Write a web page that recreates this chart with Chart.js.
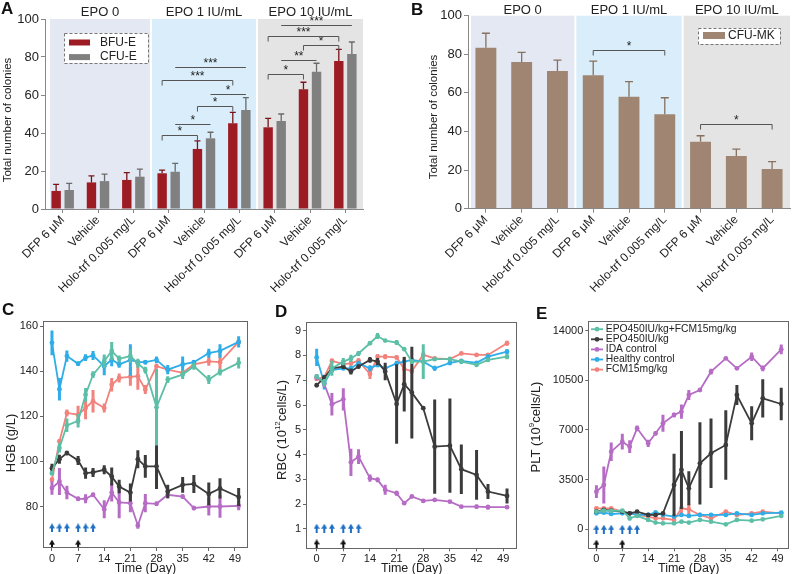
<!DOCTYPE html>
<html>
<head>
<meta charset="utf-8">
<script src="https://cdn.jsdelivr.net/npm/chart.js@4.4.1/dist/chart.umd.min.js"></script>
<style>
  body { margin: 0; background: #fff; }
  #fig { position: relative; width: 792px; height: 574px; overflow: hidden; font-family: "Liberation Sans", Arial, sans-serif; }
  #fig canvas { position: absolute; }
  .tag { position: absolute; font-weight: bold; font-size: 17px; line-height: 1; color: #111; }
</style>
</head>
<body>
<div id="fig">
  <canvas id="chart-a" width="392" height="292" style="left:0;top:0"></canvas>
  <canvas id="chart-b" width="401" height="292" style="left:391px;top:0"></canvas>
  <canvas id="chart-c" width="262" height="281" style="left:0;top:295px"></canvas>
  <canvas id="chart-d" width="262" height="281" style="left:262px;top:295px"></canvas>
  <canvas id="chart-e" width="272" height="281" style="left:522px;top:295px"></canvas>
  <div class="tag" style="left:1px;top:0">A</div>
  <div class="tag" style="left:411px;top:1px">B</div>
  <div class="tag" style="left:2px;top:301px">C</div>
  <div class="tag" style="left:275px;top:303px">D</div>
  <div class="tag" style="left:536px;top:305px">E</div>
</div>
<script>
// ---- data: colony assays (A, B) ----
const treatments = ['DFP 6 μM', 'Vehicle', 'Holo-trf 0.005 mg/L'];
const groupTitles = ['EPO 0', 'EPO 1 IU/mL', 'EPO 10 IU/mL'];
const colonyTicks = [0, 20, 40, 60, 80, 100];

const bfuE = [9.5, 14, 15.3, 18.8, 31.6, 45.1, 43, 63, 77.9];
const bfuEErr = [3.5, 3.4, 3.8, 1.7, 4.3, 5.8, 4.7, 3.7, 6.1];
const cfuE = [10, 14.7, 17, 19.6, 37.2, 52.1, 46.3, 72.3, 81.6];
const cfuEErr = [3.5, 3.7, 4, 4.4, 3.2, 6.5, 3.7, 4.4, 6.3];
const cfuMK = [83.4, 76, 71.3, 69.1, 58, 49, 34.7, 27.3, 20.6];
const cfuMKErr = [7.5, 5, 5.7, 7.4, 7.8, 8.5, 3.1, 3.6, 3.8];

// significance: [category, dataset, category, dataset, height, stars, with end ticks]
const sigA = [
  [3, 0, 4, 0, 39, '*', 1],
  [3, 1, 4, 1, 44.7, '*', 0],
  [4, 0, 5, 0, 54.2, '*', 1],
  [4, 1, 5, 1, 60.7, '*', 0],
  [3, 0, 5, 0, 67.9, '***', 1],
  [3, 1, 5, 1, 74.6, '***', 0],
  [6, 0, 7, 0, 71, '*', 1],
  [6, 1, 7, 1, 78.4, '**', 0],
  [7, 0, 8, 0, 86.5, '*', 1],
  [6, 0, 8, 0, 91.2, '***', 1],
  [6, 1, 8, 1, 96.8, '***', 0]
];
const sigB = [
  [3, 0, 5, 0, 82.2, '*', 1],
  [6, 0, 8, 0, 43.7, '*', 1]
];

// ---- data: time courses (C, D, E) ----
const days = [0, 2, 4, 7, 9, 11, 14, 16, 18, 21, 23, 25, 28, 31, 35, 38, 42, 45, 50];
const dayTicks = [0, 7, 14, 21, 28, 35, 42, 49];
const blueArrowDays = [0, 2, 4, 7, 9, 11];
const blackArrowDays = [0, 7];
const seriesNames = ['EPO450IU/kg+FCM15mg/kg', 'EPO450IU/kg', 'IDA control', 'Healthy control', 'FCM15mg/kg'];

const hgbTicks = [80, 100, 120, 140, 160];
const hgbComb = [94.8, 106, 116, 118, 129.6, 138.5, 144.4, 149, 145.5, 146.7, 143.5, 140.5, 124, 136.3, 138.5, 142.2, 136.3, 139.6, 143.7];
const hgbCombErr = [1, 2, 3, 3, 3, 1.5, 3, 4, 1.5, 3, 2, 1.5, 17, 1.5, 2, 1.5, 2, 1.5, 2.5];
const hgbEpo = [97, 101, 103.7, 100.4, 94.8, 95.1, 96.3, 93.3, 88.9, 86.2, 101, 97.8, 97.8, 86.7, 89.6, 90, 85.6, 88, 84.2];
const hgbEpoErr = [2, 2, 1, 2, 2.5, 2, 2, 4, 3, 4, 4, 5, 10, 3, 3.5, 4, 5, 4.5, 4];
const hgbIda = [88.2, 91.1, 86.2, 83.4, 83.4, 85.2, 78.8, 86.2, 81.8, 81.5, 71.6, 81.5, 81.2, 85.2, 84.4, 79.3, 80, 80, 80.3];
const hgbIdaErr = [3, 6, 3, 1, 2, 1, 4, 4, 7, 4, 1.5, 4, 1, 1.5, 1, 1, 4, 5, 2];
const hgbHealthy = [152.6, 132, 146.7, 143.3, 146, 147, 142.2, 145.2, 143, 145, 144, 144, 145, 140.7, 143, 144, 148, 149, 153];
const hgbHealthyErr = [5.5, 5, 2.5, 1, 1.5, 2, 4, 3, 1.5, 7, 1, 1, 1.5, 2, 3.5, 1, 2, 3, 2.5];
const hgbFcm = [91.9, 108.9, 121.5, 120.7, 123.7, 126.7, 123.7, 134, 137, 137.5, 137.8, 131.9, 142.2, 140.7, 139.3, 143, 144.4, 144, 153];
const hgbFcmErr = [1, 1, 1.5, 4, 5, 5, 2, 3, 2, 4, 6, 2, 1, 1, 1, 1, 2, 4, 1];

const rbcTicks = [1, 2, 3, 4, 5, 6, 7, 8, 9];
const rbcComb = [7.15, 6.9, 7.48, 7.75, 7.88, 8.08, 8.49, 8.78, 8.6, 8.52, 8.25, 7.75, 7.75, 7.85, 7.85, 7.75, 7.62, 7.82, 7.95];
const rbcCombErr = [0.1, 0.15, 0.3, 0.15, 0.15, 0.1, 0.05, 0.12, 0.05, 0.1, 0.05, 0.1, 0.7, 0.05, 0.1, 0.1, 0.08, 0.08, 0.1];
const rbcEpo = [6.8, 7.1, 7.48, 7.55, 7.35, 7.55, 7.82, 7.75, 7.35, 6.04, 6.84, 6.5, 5.87, 4.32, 4.36, 3.41, 3.18, 2.51, 2.33];
const rbcEpoErr = [0.08, 0.1, 0.08, 0.1, 0.12, 0.08, 0.12, 0.15, 0.35, 1.6, 1.1, 1.85, 0.05, 1.9, 1.9, 1.0, 1.0, 0.3, 0.3];
const rbcIda = [7.12, 6.85, 6.03, 6.23, 3.69, 3.92, 3.05, 2.98, 2.58, 2.44, 2.04, 2.31, 2.13, 2.17, 2.1, 1.9, 1.9, 1.88, 1.88];
const rbcIdaErr = [0.1, 0.15, 0.45, 0.45, 0.55, 0.3, 0.15, 0.1, 0.2, 0.1, 0.05, 0.05, 0.05, 0.05, 0.05, 0.05, 0.08, 0.1, 0.05];
const rbcHealthy = [7.92, 6.88, 7.41, 7.48, 7.48, 7.68, 7.48, 7.62, 7.48, 7.68, 7.75, 7.82, 7.75, 7.48, 7.7, 7.78, 7.7, 7.95, 8.15];
const rbcHealthyErr = [0.35, 0.25, 0.1, 0.08, 0.1, 0.1, 0.12, 0.1, 0.1, 0.1, 0.05, 0.05, 0.05, 0.1, 0.1, 0.08, 0.05, 0.08, 0.1];
const rbcFcm = [7.05, 7.12, 7.78, 7.65, 7.68, 7.79, 7.25, 7.95, 7.95, 7.92, 7.45, 7.37, 8.02, 7.88, 7.85, 8.08, 8.02, 8.02, 8.49];
const rbcFcmErr = [0.08, 0.1, 0.1, 0.1, 0.1, 0.1, 0.2, 0.1, 0.1, 0.08, 0.5, 0.1, 0.1, 0.05, 0.05, 0.05, 0.05, 0.05, 0.1];

const pltTicks = [0, 3500, 7000, 10500, 14000];
const pltComb = [1245, 1315, 1292, 1315, 775, 940, 658, 470, 423, 423, 540, 470, 658, 540, 352, 658, 610, 705, 940];
const pltCombErr = [100, 100, 100, 80, 150, 100, 100, 80, 80, 80, 80, 80, 80, 80, 100, 80, 100, 80, 80];
const pltEpo = [1245, 1362, 1315, 1245, 1127, 1245, 1010, 1010, 1127, 3124, 4181, 2889, 4651, 5356, 5943, 9466, 7470, 9231, 8832];
const pltEpoErr = [150, 100, 100, 100, 100, 80, 80, 80, 100, 2200, 2750, 1200, 2900, 2450, 2450, 700, 1200, 1350, 1150];
const pltIda = [2654, 3124, 5473, 6178, 5825, 7117, 6060, 6765, 7470, 8057, 8292, 9466, 9819, 11111, 12050, 11346, 12168, 11346, 12685];
const pltIdaErr = [450, 1300, 650, 550, 450, 200, 250, 150, 600, 150, 500, 350, 100, 200, 100, 100, 300, 200, 350];
const pltHealthy = [1127, 1174, 1080, 1127, 1127, 1010, 1010, 1198, 1010, 893, 1010, 940, 1010, 1010, 1010, 1127, 1010, 1127, 1174];
const pltHealthyErr = [100, 80, 80, 80, 80, 80, 80, 80, 80, 80, 80, 80, 80, 80, 80, 80, 80, 80, 80];
const pltFcm = [1480, 1480, 1480, 1245, 1127, 1010, 893, 775, 775, 658, 1480, 1409, 1010, 775, 1245, 1010, 1127, 1245, 1127];
const pltFcmErr = [100, 100, 100, 100, 100, 100, 100, 100, 100, 100, 500, 400, 100, 100, 100, 100, 100, 100, 100];

// ---- styles ----
const FONT = '"Liberation Sans", Arial, Helvetica, sans-serif';
const TEXT = '#222';
const AXIS = '#888';
const FRAME = '#666';
const groupColors = ['#e3e8f3', '#d9eefa', '#e4e4e4'];
const seriesColors = ['#5cbfa6', '#3b3b3b', '#b66cc5', '#2eade8', '#f2827c'];

Chart.defaults.font.family = FONT;
Chart.defaults.color = TEXT;

// shaded EPO groups with their titles
function groupBg(inset, titleGap) {
  return {
    id: 'groupBg',
    beforeDraw(chart) {
      const { ctx, chartArea: a, scales: { x } } = chart;
      const half = (x.getPixelForValue(1) - x.getPixelForValue(0)) / 2;
      ctx.save();
      groupTitles.forEach((t, g) => {
        const l = g === 0 ? a.left + inset : x.getPixelForValue(3 * g) - half + 1;
        const r = g === 2 ? a.right : x.getPixelForValue(3 * g + 2) + half - 1;
        ctx.fillStyle = groupColors[g];
        ctx.fillRect(l, a.top, r - l, a.bottom - a.top);
        ctx.fillStyle = TEXT;
        ctx.font = '13px ' + FONT;
        ctx.textAlign = 'center';
        ctx.textBaseline = 'middle';
        ctx.fillText(t, (l + r) / 2, a.top - titleGap);
      });
      ctx.restore();
    }
  };
}

// upper error bars with a cap
const barErr = {
  id: 'barErr',
  afterDatasetsDraw(chart) {
    const { ctx } = chart, y = chart.scales.y;
    chart.data.datasets.forEach((ds, di) => {
      ctx.save();
      ctx.strokeStyle = ds.errColor;
      ctx.lineWidth = 1.3;
      chart.getDatasetMeta(di).data.forEach((bar, i) => {
        const top = y.getPixelForValue(ds.data[i] + ds.err[i]);
        const c = ds.capWidth / 2;
        ctx.beginPath();
        ctx.moveTo(bar.x, bar.y);
        ctx.lineTo(bar.x, top);
        ctx.moveTo(bar.x - c, top);
        ctx.lineTo(bar.x + c, top);
        ctx.stroke();
      });
      ctx.restore();
    });
  }
};

function brackets(list) {
  return {
    id: 'brackets',
    afterDatasetsDraw(chart) {
      const { ctx } = chart, y = chart.scales.y;
      ctx.save();
      ctx.strokeStyle = '#555';
      ctx.fillStyle = TEXT;
      ctx.lineWidth = 1;
      ctx.font = '12px ' + FONT;
      ctx.textAlign = 'center';
      ctx.textBaseline = 'alphabetic';
      list.forEach(([c1, s1, c2, s2, v, label, ticked]) => {
        const x1 = chart.getDatasetMeta(s1).data[c1].x;
        const x2 = chart.getDatasetMeta(s2).data[c2].x;
        const py = Math.round(y.getPixelForValue(v)) + 0.5;
        ctx.beginPath();
        if (ticked) {
          ctx.moveTo(x1, py + 5); ctx.lineTo(x1, py); ctx.lineTo(x2, py); ctx.lineTo(x2, py + 5);
        } else {
          ctx.moveTo(x1, py); ctx.lineTo(x2, py);
        }
        ctx.stroke();
        ctx.fillText(label, (x1 + x2) / 2, py - 0.5);
      });
      ctx.restore();
    }
  };
}

function boxLegend(o) {
  return {
    id: 'boxLegend',
    afterDraw(chart) {
      const { ctx } = chart;
      ctx.save();
      ctx.fillStyle = '#fff';
      ctx.fillRect(o.x, o.y, o.w, o.h);
      ctx.setLineDash([3, 2]);
      ctx.strokeStyle = '#777';
      ctx.lineWidth = 1;
      ctx.strokeRect(o.x + 0.5, o.y + 0.5, o.w, o.h);
      ctx.setLineDash([]);
      ctx.font = '12px ' + FONT;
      ctx.textAlign = 'left';
      ctx.textBaseline = 'middle';
      chart.data.datasets.forEach((ds, i) => {
        const ry = o.y + o.first + i * o.step;
        ctx.fillStyle = ds.backgroundColor;
        ctx.fillRect(o.x + 5, ry - o.sh / 2, o.sw, o.sh);
        ctx.fillStyle = TEXT;
        ctx.fillText(ds.label, o.x + o.tx, ry);
      });
      ctx.restore();
    }
  };
}

// rotated axis title, parts may be superscript
function yTitle(parts, x, y, size) {
  return {
    id: 'yTitle',
    afterDraw(chart) {
      const { ctx } = chart;
      const big = size + 'px ' + FONT, small = Math.round(size * 0.65) + 'px ' + FONT;
      ctx.save();
      ctx.translate(x, y);
      ctx.rotate(-Math.PI / 2);
      ctx.fillStyle = TEXT;
      ctx.textAlign = 'left';
      ctx.textBaseline = 'middle';
      let total = 0;
      parts.forEach(([t, sup]) => { ctx.font = sup ? small : big; total += ctx.measureText(t).width; });
      let cx = -total / 2;
      parts.forEach(([t, sup]) => {
        ctx.font = sup ? small : big;
        ctx.fillText(t, cx, sup ? -size * 0.35 : 0);
        cx += ctx.measureText(t).width;
      });
      ctx.restore();
    }
  };
}

const frame = {
  id: 'frame',
  afterDraw(chart) {
    const { ctx, chartArea: a } = chart;
    ctx.save();
    ctx.strokeStyle = FRAME;
    ctx.lineWidth = 1;
    ctx.strokeRect(Math.round(a.left) + 0.5, Math.round(a.top) + 0.5, Math.round(a.right - a.left) - 1, Math.round(a.bottom - a.top) - 1);
    ctx.restore();
  }
};

// symmetric error bars drawn under each series
const lineErr = {
  id: 'lineErr',
  beforeDatasetDraw(chart, args) {
    const ds = chart.data.datasets[args.index];
    if (!ds.err) return;
    const { ctx, chartArea: a } = chart, y = chart.scales.y;
    ctx.save();
    ctx.beginPath();
    ctx.rect(a.left, a.top, a.right - a.left, a.bottom - a.top);
    ctx.clip();
    ctx.strokeStyle = ds.borderColor;
    ctx.lineWidth = 3;
    args.meta.data.forEach((pt, i) => {
      const v = ds.data[i].y, e = ds.err[i];
      ctx.beginPath();
      ctx.moveTo(pt.x, y.getPixelForValue(v + e));
      ctx.lineTo(pt.x, y.getPixelForValue(v - e));
      ctx.stroke();
    });
    ctx.restore();
  }
};

const seriesLegend = {
  id: 'seriesLegend',
  afterDraw(chart) {
    const { ctx, chartArea: a } = chart;
    ctx.save();
    ctx.font = '10.3px ' + FONT;
    ctx.textAlign = 'left';
    ctx.textBaseline = 'middle';
    chart.data.datasets.filter(d => d.inLegend).forEach((ds, i) => {
      const y = a.top + 8.5 + i * 10.1, x = a.left + 2.7;
      ctx.strokeStyle = ds.borderColor;
      ctx.lineWidth = 1.8;
      ctx.beginPath(); ctx.moveTo(x, y); ctx.lineTo(x + 12, y); ctx.stroke();
      ctx.fillStyle = ds.borderColor;
      ctx.beginPath(); ctx.arc(x + 6, y, 2.4, 0, Math.PI * 2); ctx.fill();
      ctx.fillStyle = TEXT;
      ctx.fillText(ds.label, x + 14.8, y);
    });
    ctx.restore();
  }
};

function arrowIcon(color) {
  const c = document.createElement('canvas');
  c.width = 6; c.height = 9;
  const g = c.getContext('2d');
  g.fillStyle = color;
  g.beginPath(); g.moveTo(3, 0); g.lineTo(6, 5); g.lineTo(0, 5); g.closePath(); g.fill();
  g.fillRect(2, 4, 2, 5);
  return c;
}

function barChart(id, datasets, o) {
  return new Chart(document.getElementById(id), {
    type: 'bar',
    data: { labels: [...treatments, ...treatments, ...treatments], datasets },
    options: {
      responsive: false, animation: false, devicePixelRatio: 1, events: [],
      layout: { padding: { top: o.top, right: o.right, left: 0, bottom: 0 } },
      plugins: { legend: { display: false }, tooltip: { enabled: false } },
      scales: {
        x: {
          grid: { drawOnChartArea: false, offset: false, tickLength: 4, color: AXIS },
          border: { color: AXIS },
          ticks: { autoSkip: false, maxRotation: 45, minRotation: 45, padding: 0, color: TEXT, font: { size: 12 } },
          afterFit: s => { s.height = o.xHeight; }
        },
        y: {
          min: 0, max: 100,
          afterBuildTicks: s => { s.ticks = colonyTicks.map(v => ({ value: v })); },
          ticks: { padding: 2, color: TEXT, font: { size: 13 } },
          grid: { drawOnChartArea: false, tickLength: 4, color: AXIS },
          border: { color: AXIS },
          afterFit: s => { s.width = o.yWidth; }
        }
      }
    },
    plugins: [groupBg(o.inset, o.titleGap), barErr, brackets(o.sig), boxLegend(o.legend),
      yTitle([['Total number of colonies']], o.titleX, o.titleY, 11.5)]
  });
}

function lineChart(id, series, errors, o) {
  const datasets = series.map((vals, i) => ({
    label: seriesNames[i], inLegend: true,
    data: days.map((d, j) => ({ x: d, y: vals[j] })),
    err: errors[i],
    borderColor: seriesColors[i], backgroundColor: seriesColors[i], pointBackgroundColor: seriesColors[i]
  }));
  datasets.push({ data: blueArrowDays.map(d => ({ x: d, y: o.arrowY[0] })), showLine: false, pointStyle: arrowIcon('#1f6fc4'), pointRadius: 5 });
  datasets.push({ data: blackArrowDays.map(d => ({ x: d, y: o.arrowY[1] })), showLine: false, pointStyle: arrowIcon('#111'), pointRadius: 5 });
  const plugins = [lineErr, frame, yTitle(o.title, o.titleX, o.titleY, 13)];
  if (o.legend) plugins.push(seriesLegend);
  return new Chart(document.getElementById(id), {
    type: 'line',
    data: { datasets },
    options: {
      responsive: false, animation: false, devicePixelRatio: 1, events: [],
      layout: { padding: { top: o.top, right: o.right, left: 0, bottom: 0 } },
      plugins: { legend: { display: false }, tooltip: { enabled: false } },
      elements: { line: { borderWidth: 1.8, tension: 0 }, point: { radius: 2.4, borderWidth: 0 } },
      scales: {
        x: {
          type: 'linear', min: o.xMin, max: o.xMax,
          afterBuildTicks: s => { s.ticks = dayTicks.map(v => ({ value: v })); },
          ticks: { color: TEXT, font: { size: 11 }, padding: 1, maxRotation: 0, callback: v => String(v) },
          grid: { drawOnChartArea: false, tickLength: 3, color: FRAME },
          border: { display: false },
          title: { display: true, text: 'Time (Day)', color: TEXT, font: { size: 12.5 }, padding: 0 },
          afterFit: s => { s.height = o.xHeight; }
        },
        y: {
          min: o.yMin, max: o.yMax,
          afterBuildTicks: s => { s.ticks = o.yTicks.map(v => ({ value: v })); },
          ticks: { color: TEXT, font: { size: 11 }, padding: 2, callback: v => String(v) },
          grid: { drawOnChartArea: false, tickLength: 3, color: FRAME },
          border: { display: false },
          afterFit: s => { s.width = o.yWidth; }
        }
      }
    },
    plugins
  });
}

barChart('chart-a', [
  { label: 'BFU-E', data: bfuE, err: bfuEErr, backgroundColor: '#9d1c23', errColor: '#7a141a', capWidth: 6, barPercentage: 0.72, categoryPercentage: 0.74 },
  { label: 'CFU-E', data: cfuE, err: cfuEErr, backgroundColor: '#808080', errColor: '#6a6a6a', capWidth: 6, barPercentage: 0.72, categoryPercentage: 0.74 }
], {
  top: 19, right: 29, xHeight: 83, yWidth: 45, inset: 5, titleGap: 7, sig: sigA,
  legend: { x: 64, y: 33, w: 84, h: 30, first: 9.5, step: 14.6, sw: 21, sh: 6, tx: 36 },
  titleX: 7.5, titleY: 120
});

barChart('chart-b', [
  { label: 'CFU-MK', data: cfuMK, err: cfuMKErr, backgroundColor: '#a08672', errColor: '#86705f', capWidth: 8, barPercentage: 0.73, categoryPercentage: 0.8 }
], {
  top: 15.7, right: 2, xHeight: 83.3, yWidth: 77, inset: 3, titleGap: 5, sig: sigB,
  legend: { x: 307, y: 28, w: 82, h: 16, first: 7.5, step: 14, sw: 22, sh: 7, tx: 30 },
  titleX: 43, titleY: 117
});

lineChart('chart-c',
  [hgbComb, hgbEpo, hgbIda, hgbHealthy, hgbFcm],
  [hgbCombErr, hgbEpoErr, hgbIdaErr, hgbHealthyErr, hgbFcmErr],
  { top: 25.7, right: 14, xHeight: 28, yWidth: 43, xMin: -2.4, xMax: 52.5, yMin: 61.6, yMax: 162.4,
    yTicks: hgbTicks, arrowY: [70.5, 63.3], title: [['HGB (g/L)']], titleX: 11, titleY: 148 });

lineChart('chart-d',
  [rbcComb, rbcEpo, rbcIda, rbcHealthy, rbcFcm],
  [rbcCombErr, rbcEpoErr, rbcIdaErr, rbcHealthyErr, rbcFcmErr],
  { top: 26.7, right: 6.7, xHeight: 27.7, yWidth: 44, xMin: -2.8, xMax: 52.7, yMin: 0.22, yMax: 9.36,
    yTicks: rbcTicks, arrowY: [1.03, 0.4], title: [['RBC (10'], ['12', 1], ['cells/L)']], titleX: 20, titleY: 135 });

lineChart('chart-e',
  [pltComb, pltEpo, pltIda, pltHealthy, pltFcm],
  [pltCombErr, pltEpoErr, pltIdaErr, pltHealthyErr, pltFcmErr],
  { top: 25.7, right: 2.3, xHeight: 27.7, yWidth: 66.3, xMin: -2.2, xMax: 52.1, yMin: -1340, yMax: 14705,
    yTicks: pltTicks, arrowY: [0, -1050], title: [['PLT (10'], ['9', 1], ['cells/L)']], titleX: 14, titleY: 132, legend: true });
</script>
</body>
</html>
